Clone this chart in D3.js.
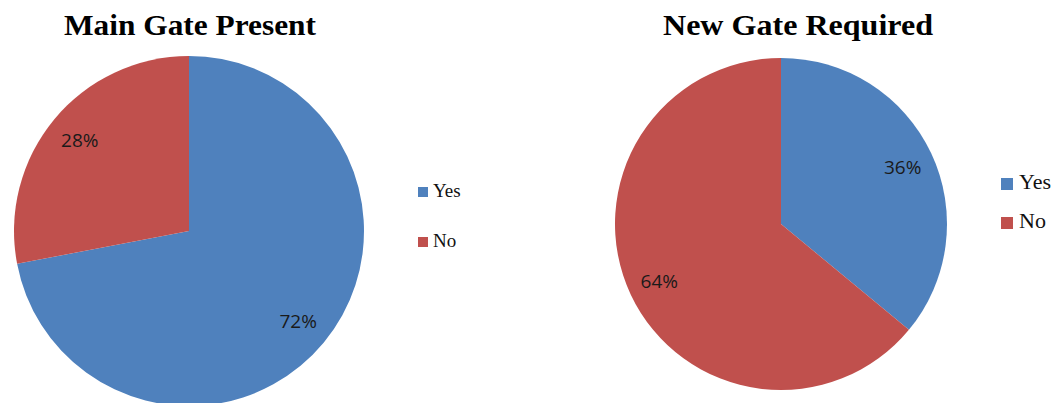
<!DOCTYPE html>
<html><head><meta charset="utf-8">
<script src="https://cdn.jsdelivr.net/npm/d3@7"></script>
<style>body{margin:0;background:#fff;}svg{display:block;}</style>
</head><body>
<script>
const categories = ["Yes", "No"];
const mainGateValues = [72, 28];
const newGateValues = [36, 64];
const titles = ["Main Gate Present", "New Gate Required"];
const colors = ["#4F81BD", "#C0504D"];

const W = 1057, H = 403;
const svg = d3.select("body").append("svg").attr("width", W).attr("height", H);

const charts = [
  {values: mainGateValues, title: titles[0], cx: 189, cy: 231, r: 175,
   titleX: 190, titleY: 35, titleLen: 252, legX: 418, legY: [187, 237], sq: 10, legFont: 19, textDX: 15, textDY: 10},
  {values: newGateValues, title: titles[1], cx: 781, cy: 224, r: 166,
   titleX: 798, titleY: 35, titleLen: 270, legX: 1001, legY: [178, 217], sq: 12, legFont: 22, textDX: 18, textDY: 11}
];

const color = d3.scaleOrdinal().domain(categories).range(colors);

charts.forEach(c => {
  const data = categories.map((k, i) => ({key: k, value: c.values[i]}));
  const pie = d3.pie().sort(null).value(d => d.value);
  const arcs = pie(data);
  const arc = d3.arc().innerRadius(0).outerRadius(c.r);
  const labelArc = d3.arc().innerRadius(c.r * 0.81).outerRadius(c.r * 0.81);
  const g = svg.append("g").attr("transform", `translate(${c.cx},${c.cy})`);
  g.selectAll("path").data(arcs).join("path")
    .attr("d", arc).attr("fill", d => color(d.data.key));
  g.selectAll("text").data(arcs).join("text")
    .attr("transform", d => `translate(${labelArc.centroid(d)})`)
    .attr("text-anchor", "middle").attr("dy", "0.36em")
    .attr("font-family", "'Open Sans', sans-serif").attr("font-size", 19)
    .attr("fill", "#1a1a1a")
    .text(d => d.data.value + "%");

  svg.append("text")
    .attr("x", c.titleX).attr("y", c.titleY)
    .attr("text-anchor", "middle")
    .attr("font-family", "'Liberation Serif', serif").attr("font-weight", "bold")
    .attr("font-size", 30).attr("fill", "#000")
    .attr("textLength", c.titleLen).attr("lengthAdjust", "spacingAndGlyphs")
    .text(c.title);

  const leg = svg.append("g");
  categories.forEach((k, i) => {
    leg.append("rect").attr("x", c.legX).attr("y", c.legY[i])
      .attr("width", c.sq).attr("height", c.sq).attr("fill", color(k));
    leg.append("text").attr("x", c.legX + c.textDX).attr("y", c.legY[i] + c.textDY)
      .attr("font-family", "'Liberation Serif', serif").attr("font-size", c.legFont)
      .attr("fill", "#111").text(k);
  });
});
</script>
</body></html>
